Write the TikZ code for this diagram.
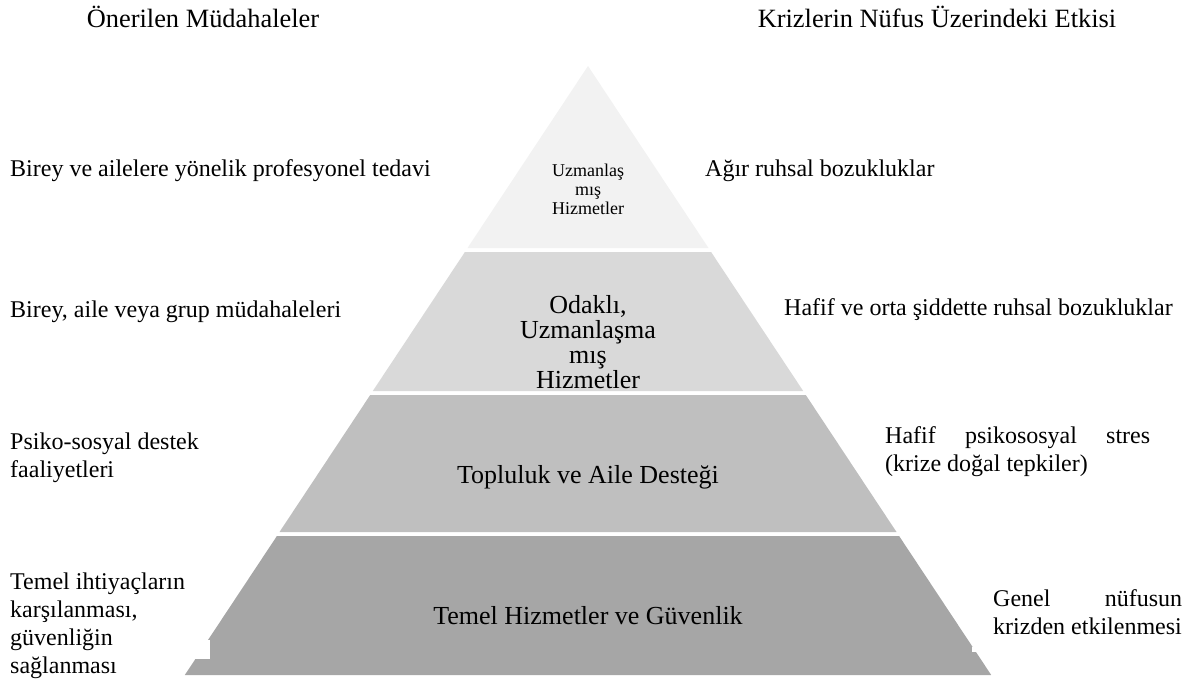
\documentclass[tikz,border=0pt]{standalone}
\usepackage{fontspec}
\setmainfont{Liberation Serif}
\begin{document}
\begin{tikzpicture}[x=1pt,y=-1pt,
  lbl/.style={font=\fontsize{24}{28}\selectfont, anchor=west, align=left, inner sep=0pt},
  ttl/.style={font=\fontsize{26.4}{30}\selectfont, inner sep=0pt},
  plbl/.style={font=\fontsize{26}{25}\selectfont, align=center, inner sep=0pt},
  slbl/.style={font=\fontsize{18}{19}\selectfont, align=center, inner sep=0pt}]
\definecolor{g1}{HTML}{F2F2F2}
\definecolor{g2}{HTML}{D9D9D9}
\definecolor{g3}{HTML}{BFBFBF}
\definecolor{g4}{HTML}{A6A6A6}
\useasboundingbox (0,0) rectangle (1190,679);
% pyramid layers
\fill[g1] (588,66) -- (708.5,248) -- (467.5,248) -- cycle;
\fill[g2] (464.9,252) -- (711.1,252) -- (803.2,391) -- (372.8,391) -- cycle;
\fill[g3] (370.2,395) -- (805.8,395) -- (896.5,532) -- (279.5,532) -- cycle;
\fill[g4] (276.9,536) -- (899.1,536) -- (991.2,675) -- (184.8,675) -- cycle;
\fill[white] (150,640) rectangle (210,659);
\fill[white] (972,647) rectangle (1000,652);
% pyramid labels
\node[slbl] (p1) at (588,189) {Uzmanlaş\\mış\\Hizmetler};
\node[plbl] (p2) at (588,342) {Odaklı,\\Uzmanlaşma\\mış\\Hizmetler};
\node[plbl] (p3) at (588,477) {Topluluk ve Aile Desteği};
\node[plbl] (p4) at (588,616) {Temel Hizmetler ve Güvenlik};
% titles
\node[ttl] (tl) at (203,17) {Önerilen Müdahaleler};
\node[ttl] (tr) at (937,17) {Krizlerin Nüfus Üzerindeki Etkisi};
% left labels
\node[lbl] (l1) at (10,171) {Birey ve ailelere yönelik profesyonel tedavi};
\node[lbl] (l2) at (10,312) {Birey, aile veya grup müdahaleleri};
\node[lbl] (l3) at (10,458) {Psiko-sosyal destek\\faaliyetleri};
\node[lbl] (l4) at (10,626) {Temel ihtiyaçların\\karşılanması,\\güvenliğin\\sağlanması};
% right labels
\node[lbl] (r1) at (705,171) {Ağır ruhsal bozukluklar};
\node[lbl] (r2) at (784,310) {Hafif ve orta şiddette ruhsal bozukluklar};
\node[lbl] (r3) at (885,452) {\makebox[265pt][l]{Hafif\hfill psikososyal\hfill stres}\\(krize doğal tepkiler)};
\node[lbl] (r4) at (993,612) {\makebox[189pt][l]{Genel\hfill nüfusun}\\krizden etkilenmesi};
\end{tikzpicture}
\end{document}
